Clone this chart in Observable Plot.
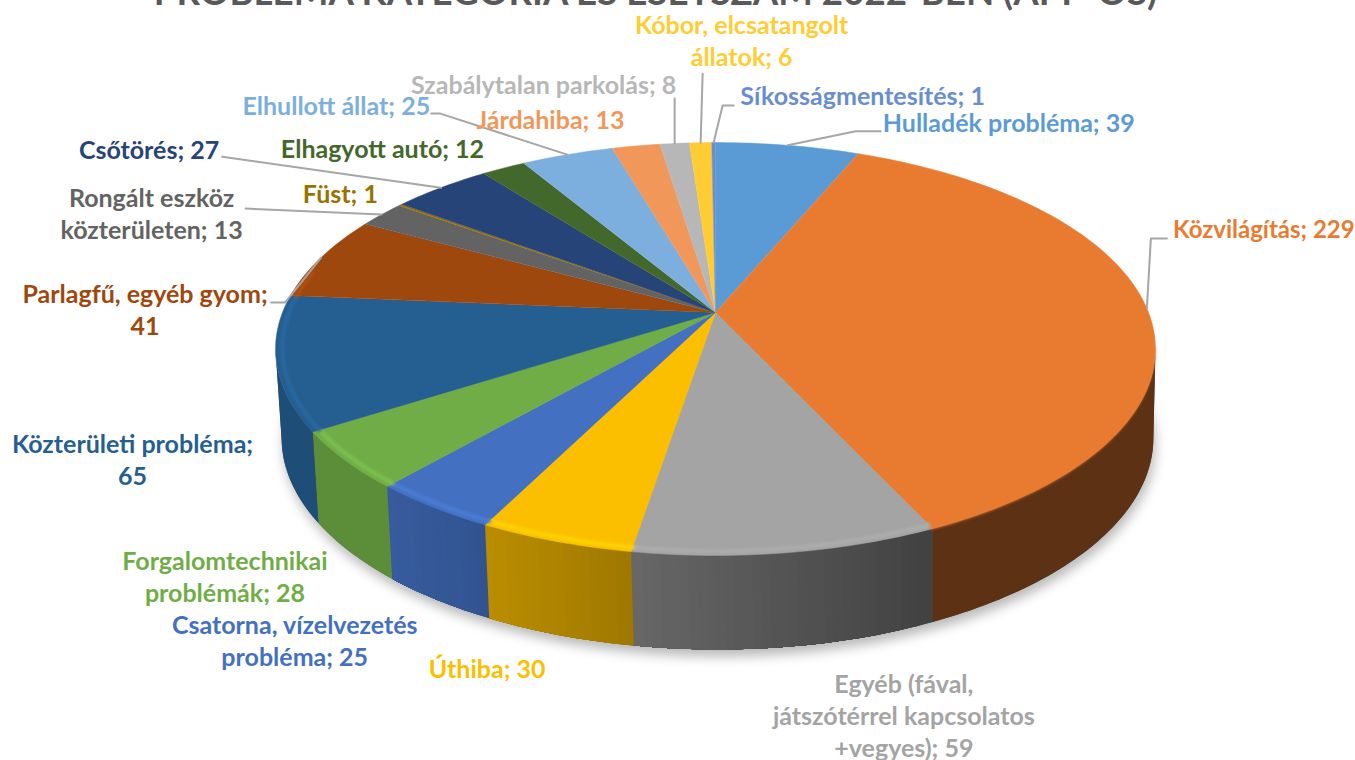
<!DOCTYPE html>
<html lang="hu">
<head>
<meta charset="utf-8">
<script src="https://cdn.jsdelivr.net/npm/d3@7"></script>
<script src="https://cdn.jsdelivr.net/npm/@observablehq/plot@0.6"></script>
<style>
html,body{margin:0;padding:0;background:#fff;overflow:hidden}
svg{display:block}
</style>
</head>
<body>
<script>
const categories = ["Hulladék probléma","Közvilágítás","Egyéb","Úthiba","Csatorna","Forgalomtechnikai","Közterületi probléma","Parlagfű","Rongált eszköz","Füst","Csőtörés","Elhagyott autó","Elhullott állat","Járdahiba","Szabálytalan parkolás","Kóbor","Síkosságmentesítés"];
const values = [39,229,59,30,25,28,65,41,13,1,27,12,25,13,8,6,1];
const colors = ["#5B9BD5","#E97B31","#A4A4A4","#FCBF00","#4370C1","#70AD47","#255E91","#9E480E","#636363","#997300","#264478","#43682B","#7CAFDD","#F1975A","#B7B7B7","#FFCD33","#698ED0"];
const labels = ["Hulladék probléma; 39","Közvilágítás; 229","Egyéb (fával,\njátszótérrel kapcsolatos\n+vegyes); 59","Úthiba; 30","Csatorna, vízelvezetés\nprobléma; 25","Forgalomtechnikai\nproblémák; 28","Közterületi probléma;\n65","Parlagfű, egyéb gyom;\n41","Rongált eszköz\nközterületen; 13","Füst; 1","Csőtörés; 27","Elhagyott autó; 12","Elhullott állat; 25","Járdahiba; 13","Szabálytalan parkolás; 8","Kóbor, elcsatangolt\nállatok; 6","Síkosságmentesítés; 1"];
const title = "PROBLÉMA KATEGÓRIA ÉS ESETSZÁM 2022-BEN (APP-OS)";

// Label placement, as offsets from the midpoint of each slice's rim
const labelOffsets = [[221,-22],[117,-78],[117,164],[-68,129],[-138,134.5],[-120,117],[-144,98],[-176,53],[-230,0],[-60,-10],[-292,-37],[-121,-18],[-231,-48],[-85.5,-25],[-131,-58],[41,-101],[149,-46]];
const labelSizes = [25,24,25,25,25,25,25,25,25,25,25,25,25,25,25,25,25];
const leaderOffsets = {0:[[68,-14],[93,-14]],1:[[4,-70],[20,-70]],7:[[-36,45],[-50,45]],8:[[-136,-6]],10:[[-219,-31]],12:[[-127,-41],[-136,-41]],14:[[0,-45]],15:[[2,-69]],16:[[9,-37],[20,-37]]};

// Perspective projection of the disc
const k = 0.1768;
const topFace = {cx:715, a:433, b:200, y0:312};
const bottomFace = {cx:717, a:429, b:205, y0:400};
const rad = d => d * Math.PI / 180;
const project = (deg, f, r = 1) => {
  const s = r * Math.sin(rad(deg)), c = r * Math.cos(rad(deg)), w = 1 + k * c;
  return {x: f.cx + f.a * s / w, y: f.y0 - f.b * c / w};
};
const total = d3.sum(values);
let run = 0;
const slices = values.map((v, i) => {
  const start = run / total * 360; run += v;
  const end = run / total * 360;
  return {i, start, end, mid: (start + end) / 2, color: colors[i]};
});
const arcAngles = (a, b, step = 1) => {
  const out = [a];
  for (let t = Math.ceil(a / step) * step; t < b; t += step) if (t > a) out.push(t);
  out.push(b);
  return out;
};
// The wall's silhouette runs from rim to rim where the disc is widest on screen
const wallFrom = Math.acos(-k) * 180 / Math.PI, wallTo = 360 - wallFrom;
const shade = x => Math.max(0.4, Math.min(0.82, 0.74 - (x - 490) * 0.00077));
const dim = (c, f) => { const q = d3.rgb(c); return d3.rgb(q.r * f, q.g * f, q.b * f).formatHex(); };

// Top face polygons
const topPts = slices.flatMap(s => [
  {id: s.i, x: topFace.cx, y: topFace.y0, fill: s.color},
  ...arcAngles(s.start, s.end).map(t => ({id: s.i, ...project(t, topFace), fill: s.color}))
]);

// Dark backing under the whole wall, so no pale seam shows between slices
const wallAngles = arcAngles(wallFrom + 1, wallTo - 1);
const wallBase = [
  ...wallAngles.map(t => project(t, topFace)),
  ...wallAngles.slice().reverse().map(t => project(t, bottomFace))
];

// Side wall: shading bands, each running on to the slice's end so no seams show
const wallPts = [];
for (const s of slices) {
  const a = Math.max(s.start, wallFrom), b = Math.min(s.end, wallTo);
  if (b <= a) continue;
  let last = null;
  arcAngles(a, b, 1).slice(0, -1).forEach((t0, j) => {
    const x0 = project(t0, topFace).x;
    const fill = dim(s.color, Math.round(shade(x0) * 200) / 200);
    if (fill === last) return;
    last = fill;
    const ts = arcAngles(t0, b, 1), id = `${s.i}-${j}`;
    for (const t of ts) wallPts.push({id, ...project(t, topFace), fill});
    for (const t of ts.slice().reverse()) wallPts.push({id, ...project(t, bottomFace), fill});
  });
}

// Soft shadow below the wall
const shadowPts = arcAngles(60, 300, 2).map(t => {
  const p = project(t, bottomFace);
  return {x: p.x + 2, y: p.y + 7};
});

// Bevel highlight on the front rim
const rimPts = [];
for (const s of slices) {
  const a = Math.max(s.start, 100), b = Math.min(s.end, 282);
  if (b <= a) continue;
  const c = s.i === 1 ? s.color : d3.rgb(s.color).brighter(s.i === 2 ? 0.15 : 0.3).formatHex();
  const r = s.i === 1 ? 0.995 : 0.985;
  for (const t of arcAngles(a, b)) rimPts.push({id: s.i, ...project(t, topFace, r), stroke: c});
}

const anchors = slices.map(s => project(s.mid, topFace));
const labelRows = labels.map((text, i) => ({
  text, x: anchors[i].x + labelOffsets[i][0], y: anchors[i].y + labelOffsets[i][1], fill: colors[i], size: labelSizes[i]
}));
const leaderPts = Object.entries(leaderOffsets).flatMap(([i, off]) => [
  {id: i, x: anchors[i].x, y: anchors[i].y},
  ...off.map(o => ({id: i, x: anchors[i].x + o[0], y: anchors[i].y + o[1]}))
]);

const chart = Plot.plot({
  width: 1355, height: 760,
  margin: 0,
  x: {domain: [0, 1355], range: [0, 1355], axis: null},
  y: {domain: [0, 760], range: [0, 760], axis: null},
  color: {type: "identity"},
  style: {background: "#fff"},
  marks: [
    Plot.line(shadowPts, {x: "x", y: "y", fill: "#000", fillOpacity: 0.28, imageFilter: "blur(6px)"}),
    Plot.line(wallBase, {x: "x", y: "y", fill: "#4a4a4a"}),
    Plot.line(wallPts, {x: "x", y: "y", z: "id", fill: "fill"}),
    Plot.line(topPts, {x: "x", y: "y", z: "id", fill: "fill", stroke: "fill", strokeWidth: 0.5}),
    Plot.line(rimPts, {x: "x", y: "y", z: "id", stroke: "stroke", strokeWidth: 4, imageFilter: "blur(1.5px)"}),
    Plot.line(leaderPts, {x: "x", y: "y", z: "id", stroke: "#A6A6A6", strokeWidth: 2}),
    Plot.text(labelRows, {x: "x", y: "y", dy: -2, text: "text", fill: "fill", fontFamily: "Lato", fontWeight: 700, fontSize: "size", lineHeight: 1.28}),
    Plot.text([title], {x: 655, y: 4, text: d => d, lineAnchor: "bottom", fill: "#595959", fontFamily: "Lato", fontWeight: 700, fontSize: 36.7})
  ]
});
document.body.appendChild(chart);
</script>
</body>
</html>
